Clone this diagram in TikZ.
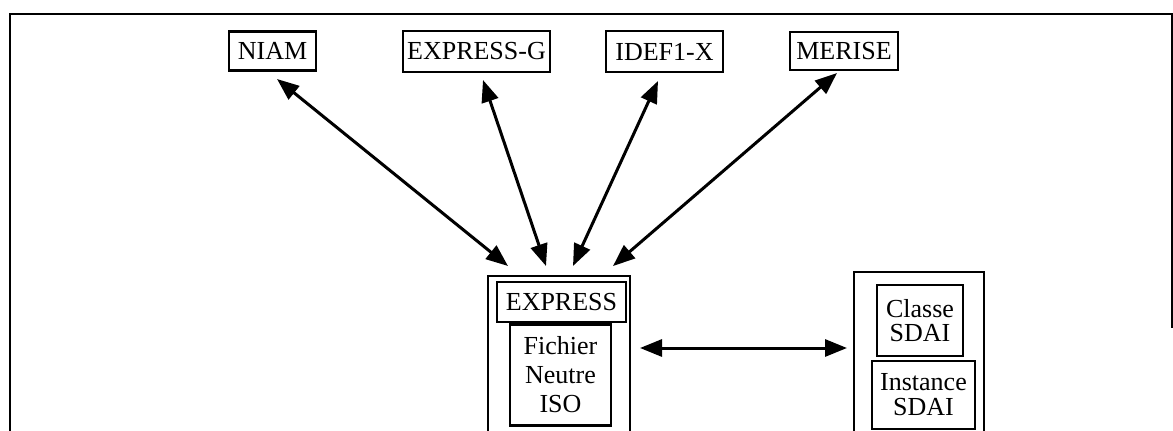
\documentclass[tikz,border=0pt]{standalone}
\usepackage{fontspec}
\setmainfont{Liberation Serif}
\usetikzlibrary{arrows.meta}
\tikzset{box/.style={draw,line width=2.2pt,inner sep=0pt,align=center,font=\fontsize{26}{29}\selectfont},holder/.style={draw,line width=1.9pt,inner sep=0pt},frame/.style={draw,line width=2pt},biarr/.style={{Triangle[length=22pt,width=17pt]}-{Triangle[length=22pt,width=17pt]},line width=3pt}}

\begin{document}
\begin{tikzpicture}[x=1pt,y=-1pt]
\useasboundingbox (0,0) rectangle (1173,431);
\clip (0,0) rectangle (1173,431);
\draw[frame] (10,445)--(10,14)--(1172,14)--(1172,328);
% methodes
\node[box,minimum width=87pt,minimum height=39pt] (niam) at (272.5,51) {NIAM};
\node[box,minimum width=147pt,minimum height=41pt] (expg) at (476.5,51.5) {EXPRESS-G};
\node[box,minimum width=117pt,minimum height=41pt] (idef) at (664.5,51.5) {IDEF1-X};
\node[box,minimum width=108pt,minimum height=38pt] (merise) at (844,51) {MERISE};
% noyau EXPRESS
\node[holder,minimum width=142pt,minimum height=184pt] (noyau) at (559,368) {};
\node[box,minimum width=129pt,minimum height=40pt] (express) at (561.5,302) {EXPRESS};
\node[box,minimum width=101pt,minimum height=101pt] (fichier) at (560.5,375) {Fichier\\Neutre\\ISO};
% SDAI
\node[holder,minimum width=130pt,minimum height=188pt] (sdai) at (919,366) {};
\node[box,minimum width=86pt,minimum height=71pt,font=\fontsize{26}{24}\selectfont] (classe) at (920,320.5) {Classe\\SDAI};
\node[box,minimum width=103pt,minimum height=68pt,font=\fontsize{26}{25}\selectfont] (instance) at (923.5,395) {Instance\\SDAI};
% extremites des fleches
\coordinate (niam-b) at (277,79);
\coordinate (expg-b) at (483,80);
\coordinate (idef-b) at (658,81);
\coordinate (merise-b) at (837,73);
\coordinate (noyau-a) at (508,266);
\coordinate (noyau-b) at (546,266);
\coordinate (noyau-c) at (573,266);
\coordinate (noyau-d) at (613,266);
\coordinate (fichier-e) at (640,348);
\coordinate (sdai-w) at (847,348);
\draw[biarr] (niam-b)--(noyau-a);
\draw[biarr] (expg-b)--(noyau-b);
\draw[biarr] (idef-b)--(noyau-c);
\draw[biarr] (merise-b)--(noyau-d);
\draw[biarr] (fichier-e)--(sdai-w);
\end{tikzpicture}
\end{document}
